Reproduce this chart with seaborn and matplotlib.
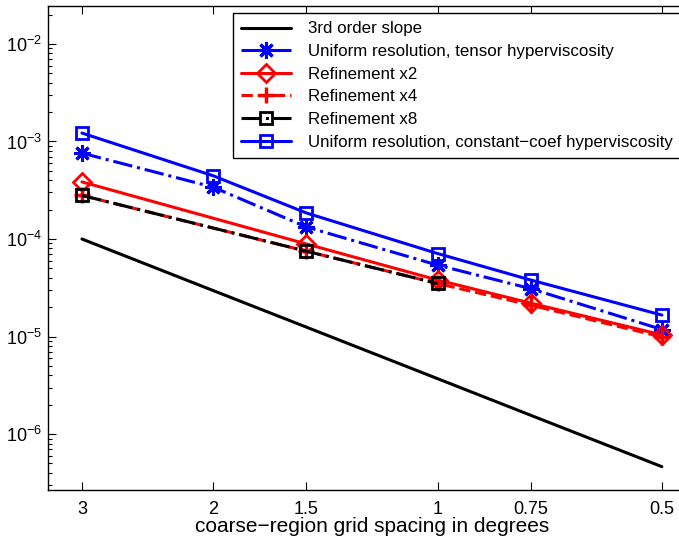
import numpy as np
import pandas as pd
import matplotlib
matplotlib.use('Agg')
import matplotlib.pyplot as plt
from matplotlib.ticker import NullLocator, LogLocator
import seaborn as sns

# data (log-log convergence plot)
spacing = [3, 2, 1.5, 1, 0.75, 0.5]
spacing_ref = [3, 1.5, 1, 0.75, 0.5]
spacing_x8 = [3, 1.5, 1]

slope3 = [1.0e-4, 2.96e-5, 1.25e-5, 3.7e-6, 1.56e-6, 4.63e-7]
tensor_hv = [7.6e-4, 3.4e-4, 1.33e-4, 5.4e-5, 3.1e-5, 1.18e-5]
refine_x2 = [3.85e-4, 8.9e-5, 3.8e-5, 2.2e-5, 1.04e-5]
refine_x4 = [2.8e-4, 7.5e-5, 3.5e-5, 2.1e-5, 9.9e-6]
refine_x8 = [2.8e-4, 7.5e-5, 3.5e-5]
constcoef_hv = [1.22e-3, 4.45e-4, 1.85e-4, 7.1e-5, 3.8e-5, 1.66e-5]

xtick_labels = ['3', '2', '1.5', '1', '0.75', '0.5']
labels = ['3rd order slope',
          'Uniform resolution, tensor hyperviscosity',
          'Refinement x2',
          'Refinement x4',
          'Refinement x8',
          'Uniform resolution, constant\u2212coef hyperviscosity']

sns.set_style('ticks')
plt.rcParams['font.family'] = ['Liberation Sans', 'DejaVu Sans']
plt.rcParams['mathtext.fontset'] = 'custom'
plt.rcParams['mathtext.rm'] = 'Liberation Sans'
plt.rcParams['mathtext.it'] = 'Liberation Sans:italic'
plt.rcParams['text.color'] = 'black'
plt.rcParams['axes.labelcolor'] = 'black'

fig = plt.figure(figsize=(6.79, 5.44), dpi=100)
ax = fig.add_axes([48 / 679, 1 - 490 / 544, (696 - 48) / 679, (490 - 6) / 544])

lw = 2.2
sns.lineplot(x=spacing, y=slope3, ax=ax, color='black', lw=lw, sort=False)
sns.lineplot(x=spacing, y=tensor_hv, ax=ax, color='blue', lw=lw, linestyle='-.',
             marker=(8, 2, 0), markersize=12, markeredgewidth=2.2, markeredgecolor='blue',
             sort=False)
sns.lineplot(x=spacing_ref, y=refine_x2, ax=ax, color='red', lw=lw,
             marker='D', markersize=9, markerfacecolor='none', markeredgewidth=2,
             markeredgecolor='red', sort=False)
sns.lineplot(x=spacing_ref, y=refine_x4, ax=ax, color='red', lw=lw, linestyle='--',
             marker='+', markersize=12, markeredgewidth=2.5, markeredgecolor='red',
             sort=False)
sns.lineplot(x=spacing_x8, y=refine_x8, ax=ax, color='black', lw=lw, linestyle='-.',
             marker='s', markersize=9, markerfacecolor='none', markeredgewidth=2,
             markeredgecolor='black', sort=False)
sns.lineplot(x=spacing, y=constcoef_hv, ax=ax, color='blue', lw=lw,
             marker='s', markersize=9, markerfacecolor='none', markeredgewidth=2,
             markeredgecolor='blue', sort=False)

ax.set_xscale('log')
ax.set_yscale('log')
ax.set_xlim(3.332, 0.45)
ax.set_ylim(2.67e-7, 2.45e-2)
ax.set_xticks(spacing)
ax.set_xticklabels(xtick_labels)
ax.xaxis.set_minor_locator(NullLocator())
ax.yaxis.set_major_locator(LogLocator(base=10, numticks=10))
ax.yaxis.set_minor_locator(LogLocator(base=10, subs=np.arange(2, 10), numticks=20))
ax.tick_params(which='both', direction='in', top=True, right=True,
               labelsize=13, colors='black', width=0.8)
ax.tick_params(axis='x', which='major', length=5.5, pad=8)
ax.tick_params(axis='y', which='major', length=5.5, pad=4)
ax.tick_params(which='minor', length=3)
for s in ax.spines.values():
    s.set_linewidth(1.0)
    s.set_color('black')

ax.set_xlabel('coarse\u2212region grid spacing in degrees', fontsize=15, labelpad=-0.5)
ax.set_ylabel('')

leg = ax.legend(handles=list(ax.lines[:6]), labels=labels,
                loc='upper left', bbox_to_anchor=(233 / 679, 1 - 13 / 544),
                bbox_transform=fig.transFigure, borderaxespad=0, fontsize=12.2,
                frameon=True, fancybox=False, numpoints=1, handlelength=2.9,
                handletextpad=1.0, labelspacing=0.45, borderpad=0.5)
leg.get_frame().set_edgecolor('black')
leg.get_frame().set_linewidth(1.0)
leg.get_frame().set_alpha(1)

fig.savefig('out.png', dpi=100)
